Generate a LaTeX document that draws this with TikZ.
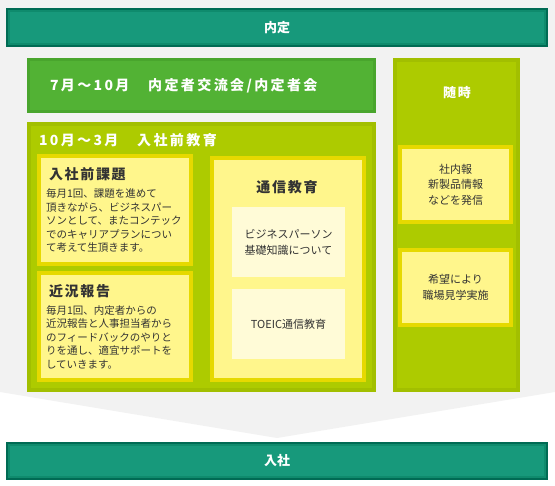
\documentclass[tikz,border=0pt]{standalone}
\usepackage{fontspec}
\setmainfont{Noto Sans CJK JP}
\usetikzlibrary{positioning}
\definecolor{bggrey}{HTML}{F2F2F2}
\definecolor{tealfill}{HTML}{17997B}
\definecolor{tealmid}{HTML}{0F8B6D}
\definecolor{tealdark}{HTML}{006B54}
\definecolor{greenfill}{HTML}{52B234}
\definecolor{greenline}{HTML}{49A52D}
\definecolor{limefill}{HTML}{ADCB00}
\definecolor{limeline}{HTML}{A2BF00}
\definecolor{yellowfill}{HTML}{FFF68C}
\definecolor{yellowline}{HTML}{E6D900}
\definecolor{palefill}{HTML}{FFFBD7}
\definecolor{textdark}{HTML}{333333}
\newcommand{\boxhead}{\fontsize{14}{16}\selectfont\bfseries\addfontfeature{LetterSpace=12}}
\newcommand{\boxbody}{\fontsize{10.5}{13.4}\selectfont}
\newcommand{\whitehead}{\fontsize{14}{16}\selectfont\bfseries\addfontfeature{LetterSpace=17}}

\begin{document}
\begin{tikzpicture}[x=1pt, y=-1pt,
        every node/.style={inner sep=0pt, outer sep=0pt, text=textdark},
        tealbar/.style={fill=tealfill, draw=tealmid, line width=2pt,
          preaction={draw=tealdark, line width=6pt},
          minimum width=536pt, minimum height=33pt, text=white,
          font=\fontsize{13}{15}\selectfont\bfseries},
        greenbox/.style={fill=greenfill, draw=greenline, line width=3pt,
          text=white, font=\whitehead},
        limebox/.style={fill=limefill, draw=limeline, line width=4pt},
        yellowbox/.style={fill=yellowfill, draw=yellowline, line width=4pt},
        palebox/.style={fill=palefill, minimum width=113pt, minimum height=70pt,
          align=center, font=\fontsize{11}{16}\selectfont},
        notebox/.style={yellowbox, minimum width=111pt, minimum height=75pt,
          align=center, font=\fontsize{11}{15.5}\selectfont},
        textbox/.style={yellowbox, minimum width=152pt, text width=138pt,
          align=left, font=\boxbody},
      ]
      \useasboundingbox (0,0) rectangle (555,486);
      \fill[bggrey] (0,0) -- (555,0) -- (555,392) -- (277,438) -- (0,392) -- cycle;

      \node[tealbar] (naitei) at (277,27.5) {内定};

      \node[greenbox, minimum width=346pt, minimum height=52pt,
        text width=303pt, align=left] (koryu) at (201.5,85.5)
        {7月～10月　内定者交流会/内定者会};

      % 10月~3月
      \node[limebox, minimum width=345pt, minimum height=266pt] (edu) at (201.5,257) {};
      \node[anchor=west, text=white, font=\whitehead] (edutitle) at (39,140)
        {10月～3月　入社前教育};

      \node[textbox, minimum height=108pt] (kadai) at (115,210)
        {{\boxhead\hspace{3pt}入社前課題}\\[5pt]
         毎月1回、課題を進めて\\
         頂きながら、ビジネスパー\\
         ソンとして、またコンテック\\
         でのキャリアプランについ\\
         て考えて生頂きます。};
      \node[textbox, minimum height=107pt] (kinkyo) at (115,326.5)
        {{\boxhead\hspace{3pt}近況報告}\\[5pt]
         毎月1回、内定者からの\\
         近況報告と人事担当者から\\
         のフィードバックのやりと\\
         りを通し、適宜サポートを\\
         していきます。};

      \node[yellowbox, minimum width=152pt, minimum height=222pt] (tsushin) at (288,269) {};
      \node[font=\boxhead] (tsushintitle) at (287,187) {通信教育};
      \node[palebox] (kiso) at (288.5,242) {ビジネスパーソン\\基礎知識について};
      \node[palebox] (toeic) at (288.5,324) {TOEIC通信教育};

      % 随時
      \node[limebox, minimum width=123pt, minimum height=330pt] (zuiji) at (456.5,225) {};
      \node[text=white, font=\fontsize{13}{15}\selectfont\bfseries\addfontfeature{LetterSpace=12}]
        (zuijititle) at (457,93) {随時};
      \node[notebox] (shanaiho) at (455.5,184.5) {社内報\\新製品情報\\などを発信};
      \node[notebox] (kengaku) at (455.5,287.5) {希望により\\職場見学実施};

      \node[tealbar, minimum height=32pt] (nyusha) at (277,461) {入社};
    \end{tikzpicture}
\end{document}
